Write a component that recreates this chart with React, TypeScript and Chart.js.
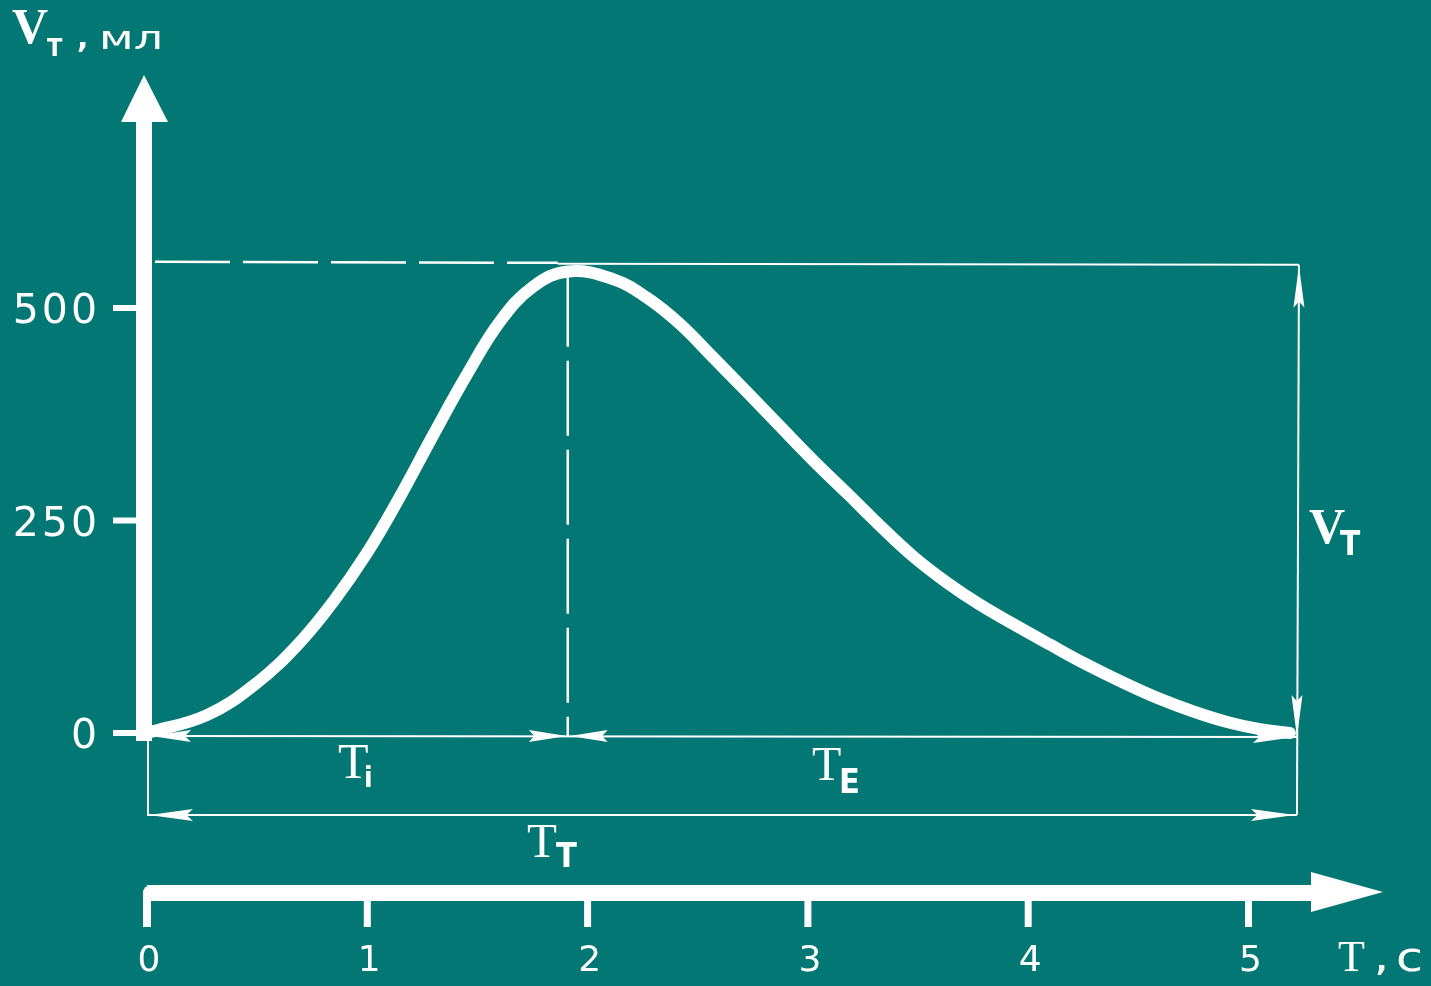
import React, { useEffect, useRef } from "react";
import { Chart, registerables } from "chart.js";

Chart.register(...registerables);

// ---- data ----
const timeS = [0, 0.272, 0.499, 0.695, 0.844, 0.999, 1.148, 1.298, 1.453, 1.602, 1.752, 1.911, 2.115, 2.27, 2.42, 2.569, 2.724, 2.873, 3.023, 3.178, 3.327, 3.477, 3.631, 3.781, 3.94, 4.099, 4.262, 4.426, 4.589, 4.753, 4.916, 5.052, 5.188];
const volumeMl = [0, 21, 59, 107, 154, 212, 278, 350, 422, 484, 525, 543, 534, 512, 481, 442, 401, 361, 321, 282, 244, 208, 177, 151, 127, 104, 81, 60, 41, 25, 12, 4.5, 0];
const yTickValues = [0, 250, 500];
const yTickLabels = ["0", "250", "500"];
const xTickValues = [0, 1, 2, 3, 4, 5];
const xTickLabels = ["0", "1", "2", "3", "4", "5"];
const inspiratoryTimeS = 1.91;
const totalTimeS = 5.22;
const tidalVolumeMl = 552;

// ---- styling ----
const BG = "#037774";
const FG = "#ffffff";
const SERIF = '"Liberation Serif", "DejaVu Serif", serif';
const SANS = '"DejaVu Sans", "Liberation Sans", sans-serif';
const COND = '"DejaVu Sans Condensed", "DejaVu Sans", sans-serif';

const X_MIN = -147 / 220.3;
const X_MAX = (1431 - 147) / 220.3;
const Y_MIN = -(986 - 733) / 0.85;
const Y_MAX = 733 / 0.85;

function arrowHead(ctx: CanvasRenderingContext2D, x: number, y: number, dir: string, len: number, half: number) {
  ctx.beginPath();
  if (dir === "l") { ctx.moveTo(x, y); ctx.lineTo(x + len, y - half); ctx.lineTo(x + len * 0.85, y); ctx.lineTo(x + len, y + half); }
  if (dir === "r") { ctx.moveTo(x, y); ctx.lineTo(x - len, y - half); ctx.lineTo(x - len * 0.85, y); ctx.lineTo(x - len, y + half); }
  if (dir === "u") { ctx.moveTo(x, y); ctx.lineTo(x - half, y + len); ctx.lineTo(x, y + len * 0.85); ctx.lineTo(x + half, y + len); }
  if (dir === "d") { ctx.moveTo(x, y); ctx.lineTo(x - half, y - len); ctx.lineTo(x, y - len * 0.85); ctx.lineTo(x + half, y - len); }
  ctx.closePath();
  ctx.fill();
}

function text(ctx: CanvasRenderingContext2D, s: string, x: number, y: number, font: string, align: CanvasTextAlign = "left", targetW?: number) {
  ctx.save();
  ctx.font = font;
  ctx.textAlign = align;
  ctx.textBaseline = "alphabetic";
  if (targetW) {
    const w = ctx.measureText(s).width;
    ctx.translate(x, y);
    ctx.scale(targetW / w, 1);
    ctx.fillText(s, 0, 0);
  } else {
    ctx.fillText(s, x, y);
  }
  ctx.restore();
}

const overlay = {
  id: "overlay",
  beforeDraw(chart: any) {
    const ctx = chart.ctx as CanvasRenderingContext2D;
    ctx.save();
    ctx.fillStyle = BG;
    ctx.fillRect(0, 0, chart.width, chart.height);
    ctx.restore();
  },
  beforeDatasetsDraw(chart: any) {
    const ctx = chart.ctx as CanvasRenderingContext2D;
    const xs = chart.scales.x;
    const ys = chart.scales.y;
    const x0 = xs.getPixelForValue(0);
    const y0 = ys.getPixelForValue(0);
    const xi = xs.getPixelForValue(inspiratoryTimeS);
    const xe = xs.getPixelForValue(totalTimeS);
    const yv = ys.getPixelForValue(tidalVolumeMl);
    ctx.save();
    ctx.strokeStyle = FG;
    ctx.fillStyle = FG;
    // dashed tidal-volume line (left part)
    ctx.lineWidth = 2.5;
    ctx.setLineDash([75, 13]);
    ctx.beginPath(); ctx.moveTo(x0 + 8, yv - 2); ctx.lineTo(xi - 10, yv - 1); ctx.stroke();
    // dashed inspiration-time line
    ctx.setLineDash([75, 14]);
    ctx.beginPath(); ctx.moveTo(xi, yv + 8); ctx.lineTo(xi, y0 + 3); ctx.stroke();
    ctx.setLineDash([]);
    // solid tidal-volume line (right part)
    ctx.lineWidth = 2;
    ctx.beginPath(); ctx.moveTo(xi - 10, yv); ctx.lineTo(xe + 2, yv + 1); ctx.stroke();
    // right vertical V_T line
    ctx.beginPath(); ctx.moveTo(xe + 2, yv + 1); ctx.lineTo(xe, y0 + 82); ctx.stroke();
    arrowHead(ctx, xe + 2, yv + 2, "u", 42, 5.5);
    arrowHead(ctx, xe, y0 + 4, "d", 42, 5.5);
    // Ti / TE row
    const yr = y0 + 3;
    ctx.beginPath(); ctx.moveTo(x0, yr); ctx.lineTo(xe, yr + 1); ctx.stroke();
    arrowHead(ctx, x0 + 4, yr, "l", 40, 6);
    arrowHead(ctx, xi - 1, yr, "r", 38, 6);
    arrowHead(ctx, xi + 2, yr, "l", 38, 6);
    arrowHead(ctx, xe - 2, yr + 1, "r", 42, 6);
    // TT row
    const yt = y0 + 82;
    ctx.beginPath(); ctx.moveTo(x0 + 1, y0); ctx.lineTo(x0 + 1, yt); ctx.lineTo(xe, yt); ctx.stroke();
    arrowHead(ctx, x0 + 2, yt, "l", 44, 6);
    arrowHead(ctx, xe - 2, yt, "r", 44, 6);
    ctx.restore();
  },
  afterDatasetsDraw(chart: any) {
    const ctx = chart.ctx as CanvasRenderingContext2D;
    const xs = chart.scales.x;
    const ys = chart.scales.y;
    const x0 = xs.getPixelForValue(0);
    const y0 = ys.getPixelForValue(0);
    ctx.save();
    ctx.fillStyle = FG;
    ctx.strokeStyle = FG;

    // Y axis (thick, with arrow)
    const ax = x0 - 3;
    ctx.fillRect(ax - 8, 120, 16, y0 + 8 - 120);
    ctx.beginPath();
    ctx.moveTo(ax, 75); ctx.lineTo(ax - 23, 122); ctx.lineTo(ax + 24, 122); ctx.closePath(); ctx.fill();
    // Y ticks + labels
    ctx.lineWidth = 6;
    yTickValues.forEach((v, i) => {
      const py = ys.getPixelForValue(v);
      ctx.beginPath(); ctx.moveTo(113, py); ctx.lineTo(ax, py); ctx.stroke();
      ctx.save();
      (ctx as any).letterSpacing = "3px";
      text(ctx, yTickLabels[i], 100, py + 15, `41px ${SANS}`, "right");
      ctx.restore();
    });

    // X axis (thick, with arrow)
    const yx = y0 + 160;
    ctx.fillRect(x0, yx - 8, 1312 - x0, 16);
    ctx.beginPath();
    ctx.arc(x0 + 4, yx, 8, Math.PI / 2, Math.PI * 1.5);
    ctx.fill();
    ctx.fillRect(x0 - 4, yx, 8, 34);
    ctx.beginPath();
    ctx.moveTo(1383, yx - 1); ctx.lineTo(1311, yx - 21); ctx.lineTo(1311, yx + 19); ctx.closePath(); ctx.fill();
    xTickValues.forEach((v, i) => {
      const px = xs.getPixelForValue(v);
      if (v !== 0) ctx.fillRect(px - 3.5, yx, 7, 34);
      text(ctx, xTickLabels[i], px + 2, yx + 78, `36px ${SANS}`, "center");
    });

    // axis titles
    text(ctx, "V", 12, 43, `bold 50px ${SERIF}`);
    text(ctx, "T", 47, 56, `bold 25px ${COND}`);
    text(ctx, ",", 77, 48, `bold 30px ${SANS}`);
    text(ctx, "мл", 99, 49, `32px ${SANS}`, "left", 64);

    text(ctx, "T", 1338, yx + 78, `44px ${SERIF}`);
    text(ctx, ",", 1376, yx + 78, `bold 30px ${SANS}`);
    text(ctx, "c", 1396, yx + 78, `40px ${SANS}`, "left", 27);

    // interval labels
    text(ctx, "T", 338, y0 + 45, `50px ${SERIF}`);
    text(ctx, "i", 364, y0 + 54, `bold 28px ${COND}`);
    text(ctx, "T", 812, y0 + 47, `48px ${SERIF}`);
    text(ctx, "E", 839, y0 + 60, `bold 34px ${COND}`);
    text(ctx, "T", 527, y0 + 124, `49px ${SERIF}`);
    text(ctx, "T", 556, y0 + 134, `bold 34px ${COND}`);
    text(ctx, "V", 1309, 543, `bold 50px ${SERIF}`);
    text(ctx, "T", 1340, 555, `bold 33px ${COND}`);

    ctx.restore();
  },
};

export default function App() {
  const ref = useRef<HTMLCanvasElement>(null);
  useEffect(() => {
    document.body.style.margin = "0";
    document.body.style.background = BG;
    const canvas = ref.current!;
    const chart = new Chart(canvas, {
      type: "line",
      data: {
        datasets: [
          {
            data: timeS.map((t, i) => ({ x: t, y: volumeMl[i] })),
            borderColor: FG,
            borderWidth: 12,
            pointRadius: 0,
            tension: 0.4,
            fill: false,
            borderCapStyle: "round",
            borderJoinStyle: "round",
          },
        ],
      },
      options: {
        animation: false,
        responsive: false,
        devicePixelRatio: 1,
        events: [],
        layout: { padding: 0 },
        plugins: { legend: { display: false }, tooltip: { enabled: false } },
        scales: {
          x: { type: "linear", min: X_MIN, max: X_MAX, display: false },
          y: { type: "linear", min: Y_MIN, max: Y_MAX, display: false },
        },
      },
      plugins: [overlay],
    } as any);
    return () => chart.destroy();
  }, []);
  return <canvas ref={ref} width={1431} height={986} style={{ display: "block" }} />;
}
